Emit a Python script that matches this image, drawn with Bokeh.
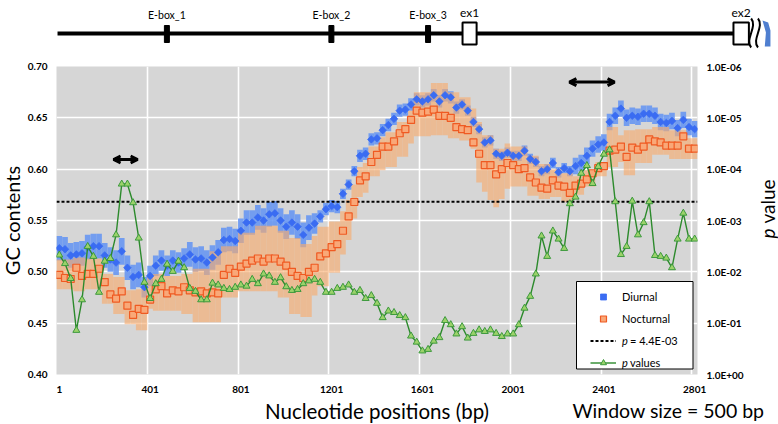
from bokeh.plotting import figure
from bokeh.models import (Range1d, LogScale, LogAxis, FixedTicker, CustomJSTickFormatter,
                          PrintfTickFormatter, Legend, LegendItem, Arrow, OpenHead,
                          ColumnDataSource, BoxAnnotation)
from bokeh.layouts import column, row
from bokeh.embed import file_html
from bokeh.resources import INLINE
from bokeh.core.properties import value
import math

# ---------------- data ----------------
positions = list(range(1, 2802, 25))          # window start positions (bp)
tick_positions = [1, 401, 801, 1201, 1601, 2001, 2401, 2801]

diurnal = [
    0.523, 0.522, 0.516, 0.517, 0.518, 0.524, 0.525, 0.525, 0.516, 0.512,
    0.509, 0.520, 0.504, 0.495, 0.497, 0.485, 0.496, 0.506, 0.511, 0.506,
    0.511, 0.509, 0.513, 0.517, 0.512, 0.513, 0.509, 0.514, 0.519, 0.531,
    0.532, 0.530, 0.540, 0.548, 0.548, 0.553, 0.550, 0.556, 0.557, 0.550,
    0.544, 0.548, 0.544, 0.536, 0.543, 0.547, 0.554, 0.561, 0.564, 0.563,
    0.576, 0.585, 0.598, 0.613, 0.615, 0.629, 0.630, 0.638, 0.643, 0.649,
    0.657, 0.658, 0.663, 0.668, 0.666, 0.668, 0.672, 0.666, 0.672, 0.670,
    0.660, 0.663, 0.657, 0.646, 0.639, 0.626, 0.628, 0.615, 0.613, 0.616,
    0.613, 0.613, 0.618, 0.610, 0.607, 0.598, 0.600, 0.606, 0.597, 0.601,
    0.598, 0.603, 0.606, 0.613, 0.620, 0.624, 0.626, 0.646, 0.652, 0.659,
    0.650, 0.652, 0.651, 0.654, 0.654, 0.652, 0.646, 0.645, 0.647, 0.640,
    0.648, 0.641, 0.639]
diurnal_spread = [
    0.012, 0.012, 0.012, 0.012, 0.012, 0.012, 0.012, 0.012, 0.012, 0.012,
    0.012, 0.013, 0.012, 0.012, 0.012, 0.010, 0.010, 0.010, 0.010, 0.010,
    0.010, 0.010, 0.010, 0.012, 0.012, 0.012, 0.012, 0.012, 0.012, 0.012,
    0.012, 0.012, 0.012, 0.012, 0.012, 0.012, 0.012, 0.012, 0.012, 0.012,
    0.012, 0.012, 0.012, 0.012, 0.012, 0.010, 0.006, 0.006, 0.006, 0.006,
    0.005, 0.005, 0.005, 0.006, 0.006, 0.006, 0.006, 0.006, 0.006, 0.006,
    0.006, 0.006, 0.006, 0.006, 0.006, 0.006, 0.006, 0.006, 0.006, 0.006,
    0.006, 0.005, 0.005, 0.005, 0.005, 0.005, 0.005, 0.005, 0.005, 0.005,
    0.005, 0.005, 0.005, 0.005, 0.005, 0.005, 0.005, 0.005, 0.005, 0.005,
    0.005, 0.008, 0.008, 0.008, 0.008, 0.008, 0.008, 0.008, 0.008, 0.008,
    0.008, 0.008, 0.008, 0.008, 0.008, 0.008, 0.008, 0.008, 0.008, 0.008,
    0.008, 0.008, 0.008]
nocturnal = [
    0.497, 0.494, 0.493, 0.504, 0.496, 0.498, 0.498, 0.503, 0.490, 0.478,
    0.474, 0.481, 0.467, 0.458, 0.464, 0.463, 0.473, 0.483, 0.486, 0.479,
    0.482, 0.481, 0.485, 0.482, 0.480, 0.481, 0.479, 0.480, 0.479, 0.497,
    0.503, 0.499, 0.505, 0.508, 0.511, 0.513, 0.510, 0.513, 0.513, 0.510,
    0.506, 0.500, 0.496, 0.494, 0.500, 0.504, 0.515, 0.518, 0.524, 0.527,
    0.540, 0.554, 0.568, 0.589, 0.593, 0.607, 0.614, 0.622, 0.622, 0.627,
    0.635, 0.639, 0.648, 0.657, 0.655, 0.656, 0.658, 0.652, 0.652, 0.650,
    0.641, 0.639, 0.638, 0.626, 0.615, 0.604, 0.604, 0.595, 0.600, 0.606,
    0.604, 0.600, 0.601, 0.592, 0.587, 0.582, 0.581, 0.589, 0.584, 0.583,
    0.577, 0.584, 0.586, 0.590, 0.596, 0.601, 0.603, 0.618, 0.619, 0.622,
    0.612, 0.621, 0.619, 0.622, 0.629, 0.627, 0.626, 0.623, 0.623, 0.623,
    0.632, 0.620, 0.620]
nocturnal_low = [
    0.483, 0.483, 0.483, 0.481, 0.481, 0.483, 0.483, 0.483, 0.469, 0.469,
    0.459, 0.459, 0.449, 0.449, 0.443, 0.443, 0.464, 0.462, 0.462, 0.462,
    0.462, 0.462, 0.459, 0.459, 0.451, 0.451, 0.451, 0.451, 0.451, 0.475,
    0.475, 0.475, 0.481, 0.481, 0.481, 0.481, 0.481, 0.481, 0.481, 0.475,
    0.475, 0.459, 0.459, 0.456, 0.456, 0.477, 0.486, 0.486, 0.499, 0.499,
    0.517, 0.531, 0.552, 0.573, 0.577, 0.593, 0.593, 0.599, 0.602, 0.602,
    0.612, 0.612, 0.625, 0.632, 0.632, 0.632, 0.633, 0.633, 0.633, 0.630,
    0.630, 0.628, 0.628, 0.620, 0.587, 0.578, 0.570, 0.563, 0.571, 0.581,
    0.583, 0.583, 0.583, 0.574, 0.574, 0.571, 0.571, 0.573, 0.573, 0.568,
    0.568, 0.575, 0.575, 0.583, 0.583, 0.593, 0.593, 0.602, 0.602, 0.607,
    0.594, 0.594, 0.606, 0.606, 0.606, 0.614, 0.614, 0.614, 0.610, 0.610,
    0.610, 0.610, 0.610]
nocturnal_high = [
    0.512, 0.512, 0.512, 0.514, 0.514, 0.513, 0.513, 0.513, 0.498, 0.498,
    0.495, 0.495, 0.482, 0.482, 0.483, 0.483, 0.495, 0.498, 0.498, 0.496,
    0.496, 0.496, 0.498, 0.498, 0.503, 0.503, 0.503, 0.520, 0.520, 0.525,
    0.525, 0.525, 0.538, 0.538, 0.538, 0.545, 0.545, 0.545, 0.545, 0.540,
    0.540, 0.533, 0.533, 0.527, 0.527, 0.535, 0.544, 0.544, 0.549, 0.549,
    0.559, 0.570, 0.585, 0.602, 0.606, 0.622, 0.622, 0.631, 0.636, 0.636,
    0.646, 0.646, 0.657, 0.675, 0.675, 0.675, 0.684, 0.684, 0.684, 0.675,
    0.675, 0.670, 0.670, 0.659, 0.646, 0.633, 0.633, 0.620, 0.620, 0.625,
    0.622, 0.622, 0.622, 0.613, 0.613, 0.605, 0.605, 0.600, 0.600, 0.596,
    0.596, 0.593, 0.593, 0.599, 0.599, 0.607, 0.607, 0.641, 0.641, 0.633,
    0.638, 0.638, 0.639, 0.639, 0.639, 0.641, 0.641, 0.641, 0.638, 0.638,
    0.638, 0.630, 0.630]
p_values = [
    4.7e-3, 6.9e-3, 1.35e-2, 1.38e-1, 3.5e-2, 3.2e-3, 5.0e-3, 2.5e-2, 6.2e-3, 5.5e-3,
    1.9e-3, 1.95e-4, 1.95e-4, 4.5e-4, 2.2e-3, 1.6e-2, 3.3e-2, 1.7e-2, 1.4e-2, 7.1e-3,
    9.8e-3, 6.2e-3, 8.3e-3, 2.1e-2, 2.4e-2, 3.5e-2, 3.5e-2, 1.66e-2, 1.8e-2, 2.1e-2,
    2.2e-2, 2.0e-2, 1.8e-2, 1.9e-2, 1.4e-2, 1.7e-2, 1.1e-2, 1.2e-2, 1.6e-2, 1.3e-2,
    1.95e-2, 2.3e-2, 2.2e-2, 1.7e-2, 1.5e-2, 1.4e-2, 1.6e-2, 2.5e-2, 2.5e-2, 2.1e-2,
    2.0e-2, 1.8e-2, 2.5e-2, 2.3e-2, 3.3e-2, 2.9e-2, 4.1e-2, 7.8e-2, 5.8e-2, 6.2e-2,
    7.1e-2, 7.8e-2, 1.78e-1, 2.34e-1, 3.47e-1, 3.24e-1, 2.24e-1, 1.91e-1, 8.9e-2, 1.07e-1,
    1.62e-1, 1.17e-1, 1.95e-1, 1.58e-1, 1.35e-1, 1.45e-1, 1.35e-1, 1.58e-1, 1.82e-1, 1.62e-1,
    1.62e-1, 1.07e-1, 5.1e-2, 3.0e-2, 1.1e-2, 2.0e-3, 5.0e-3, 1.6e-3, 2.3e-3, 3.5e-3,
    4.7e-4, 3.5e-4, 1.2e-4, 8.5e-5, 1.9e-4, 8.9e-5, 5.1e-5, 4.2e-5, 4.3e-4, 4.6e-3,
    3.2e-3, 4.2e-4, 1.9e-3, 1.1e-3, 4.3e-4, 4.8e-3, 5.0e-3, 5.4e-3, 8.3e-3, 2.3e-3,
    7.2e-4, 2.3e-3, 2.3e-3]
p_threshold_line = 4.3e-4
threshold_label = "= 4.4E-03"
gc_ticks = [0.40, 0.45, 0.50, 0.55, 0.60, 0.65, 0.70]
p_ticks = [1.0, 1e-1, 1e-2, 1e-3, 1e-4, 1e-5, 1e-6]

# double arrows marking 500 bp windows
arrow_start = [240, 2249]
arrow_end = [346, 2448]
arrow_gc = [0.6094, 0.6848]

# gene diagram (bp on the same axis)
gene_start, gene_end = -7, 3000
ebox_names = ["E-box_1", "E-box_2", "E-box_3"]
ebox_pos = [475, 1200, 1626]
exon_names = ["ex1", "ex2"]
exon_start = [1778, 2972]
exon_end = [1840, 3040]

# ---------------- layout constants (page pixels) ----------------
FONT = "Lato"
W_ALL, W_LS, W_RS = 778, 24, 26
W = W_ALL - W_LS - W_RS
H_TOP, H_MAIN, H_BOT = 58, 340, 26
BT, BB = 8, 24
BL = 56 - W_LS
FW = 641
BR = W - BL - FW
FH = H_MAIN - BT - BB
FRAME_LEFT = W_LS + BL
FRAME_TOP = H_TOP + BT
FRAME_BOTTOM = FRAME_TOP + FH
step = positions[1] - positions[0]
x_lo, x_hi = positions[0] - step / 2, positions[-1] + step / 2
bp_per_px = (x_hi - x_lo) / FW
gc_per_px = (gc_ticks[-1] - gc_ticks[0]) / FH
page_lo = x_lo - FRAME_LEFT * bp_per_px
page_hi = page_lo + W_ALL * bp_per_px


def px_x(page_x):
    return page_lo + page_x * bp_per_px


def px_y(page_y):
    return gc_ticks[0] + (FRAME_BOTTOM - page_y) * gc_per_px


def no_align(fig):
    try:
        fig.frame_align = False
    except Exception:
        pass


def blank_fig(width, height, xr, yr):
    f = figure(width=width, height=height, x_range=xr, y_range=yr,
               x_axis_type=None, y_axis_type=None, output_backend="svg",
               toolbar_location=None, min_border=0)
    no_align(f)
    f.outline_line_color = None
    f.grid.visible = False
    return f


# ---------------- main figure ----------------
p = figure(width=W, height=H_MAIN, x_range=Range1d(x_lo, x_hi),
           y_range=Range1d(gc_ticks[0], gc_ticks[-1]),
           output_backend="svg", toolbar_location=None,
           min_border_left=BL, min_border_right=BR, min_border_top=BT, min_border_bottom=BB)
no_align(p)
p.extra_y_ranges = {"p": Range1d(p_ticks[0], p_ticks[-1])}
p.extra_y_scales = {"p": LogScale()}
p.background_fill_color = "#d6d6d6"
p.border_fill_color = "white"
p.outline_line_color = None

xaxis = p.xaxis[0]
laxis = p.yaxis[0]
xaxis.ticker = FixedTicker(ticks=tick_positions)
laxis.ticker = FixedTicker(ticks=gc_ticks)
laxis.formatter = PrintfTickFormatter(format="%.2f")

raxis = LogAxis(y_range_name="p", ticker=FixedTicker(ticks=p_ticks),
                formatter=CustomJSTickFormatter(code="""
                    const e = Math.round(Math.log10(tick));
                    const a = Math.abs(e);
                    return "1.0E" + (e < 0 ? "-" : "+") + (a < 10 ? "0" : "") + a;"""))
p.add_layout(raxis, "right")

for ax in (xaxis, laxis, raxis):
    ax.axis_line_color = None
    ax.major_tick_line_color = None
    ax.minor_tick_line_color = None
    ax.major_tick_out = 0
    ax.major_tick_in = 0
    ax.major_label_text_font = FONT
    ax.major_label_text_font_style = "bold"
    ax.major_label_text_font_size = "10px"
    ax.major_label_text_color = "black"
    ax.major_label_standoff = 9
xaxis.major_label_standoff = 11

p.xgrid.ticker = FixedTicker(ticks=[t - step / 2 for t in tick_positions])
p.ygrid.ticker = FixedTicker(ticks=gc_ticks)
for g in (p.xgrid[0], p.ygrid[0]):
    g.grid_line_color = "white"
    g.grid_line_width = 1.6
    g.grid_line_alpha = 1.0

src = ColumnDataSource(dict(
    x=positions, d=diurnal,
    dlo=[a - b for a, b in zip(diurnal, diurnal_spread)],
    dhi=[a + b for a, b in zip(diurnal, diurnal_spread)],
    n=nocturnal, nlo=nocturnal_low, nhi=nocturnal_high, pv=p_values))

p.vbar(x="x", width=step, bottom="dlo", top="dhi", source=src,
       fill_color="#6897f2", fill_alpha=0.9, line_color=None)
p.vbar(x="x", width=step, bottom="nlo", top="nhi", source=src,
       fill_color="#f8ab6c", fill_alpha=0.62, line_color=None)
thr = p.line(x=[x_lo, x_hi], y=[p_threshold_line, p_threshold_line], y_range_name="p",
             line_color="black", line_width=2, line_dash="3 2")
sq = p.scatter("x", "n", source=src, marker="square", size=7,
               fill_color="#f9a878", line_color="#ef5a22", line_width=1.2)
dm = p.scatter("x", "d", source=src, marker="square", angle=math.pi / 4, size=5.3,
               fill_color="#3a6cf2", line_color="#3a6cf2", line_width=0.8)
gl = p.line("x", "pv", source=src, y_range_name="p", line_color="#2c8a2c", line_width=1.4)
gt = p.scatter("x", "pv", source=src, y_range_name="p", marker="triangle", size=7,
               fill_color="#9bd26a", line_color="#3d9a3d", line_width=1)
dummy = p.line(x=[], y=[], line_alpha=0)

# arrows
asrc = ColumnDataSource(dict(xs=arrow_start, xe=arrow_end, y=arrow_gc))
p.add_layout(Arrow(start=OpenHead(size=7, line_width=3), end=OpenHead(size=7, line_width=3),
                   x_start="xs", y_start="y", x_end="xe", y_end="y", source=asrc,
                   line_width=3, line_color="black"))

# legend frame
p.add_layout(BoxAnnotation(left=px_x(576), right=px_x(692.5), top=px_y(281), bottom=px_y(368.5),
                           fill_color="white", fill_alpha=1.0, line_color="black", line_width=1,
                           line_alpha=1.0))

LEG = dict(orientation="vertical", padding=4, spacing=7, margin=0,
           glyph_width=26, glyph_height=15, label_height=15, label_width=40, label_standoff=6,
           border_line_color=None, background_fill_alpha=0.0,
           label_text_font=FONT, label_text_font_size="11px", label_text_color="black")
leg_x, leg_y = 590 - FRAME_LEFT, FRAME_BOTTOM - 370
p.add_layout(Legend(items=[LegendItem(label="Diurnal", renderers=[dm]),
                           LegendItem(label="Nocturnal", renderers=[sq]),
                           LegendItem(label=" ", renderers=[thr]),
                           LegendItem(label=" ", renderers=[gl, gt])],
                    location=(leg_x, leg_y), **LEG))
p.add_layout(Legend(items=[LegendItem(label="p", renderers=[dummy]),
                           LegendItem(label="p", renderers=[dummy])],
                    location=(leg_x, leg_y), label_text_font_style="italic", **LEG))
p.add_layout(Legend(items=[LegendItem(label=threshold_label, renderers=[dummy]),
                           LegendItem(label="values", renderers=[dummy])],
                    location=(leg_x + 8, leg_y), **LEG))

# ---------------- side title strips ----------------
STRIP_BOTTOM = H_TOP + H_MAIN          # page y of the strips' bottom edge
ls = blank_fig(W_LS, H_MAIN, Range1d(0, W_LS), Range1d(0, H_MAIN))
ls.text(x=[11], y=[STRIP_BOTTOM - (FRAME_TOP + FRAME_BOTTOM) / 2], text=["GC contents"],
        angle=math.pi / 2, text_font=value(FONT), text_font_size="20px",
        text_align="center", text_baseline="middle", text_color="black")

rs = blank_fig(W_RS, H_MAIN, Range1d(0, W_RS), Range1d(0, H_MAIN))
rs_x = 767 - (W_ALL - W_RS)
rs.text(x=[rs_x], y=[STRIP_BOTTOM - 238], text=["p"], angle=math.pi / 2, text_font=value(FONT),
        text_font_style="italic", text_font_size="19px", text_align="left",
        text_baseline="middle", text_color="black")
rs.text(x=[rs_x], y=[STRIP_BOTTOM - 223], text=["value"], angle=math.pi / 2, text_font=value(FONT),
        text_font_size="19px", text_align="left", text_baseline="middle", text_color="black")

# ---------------- gene diagram ----------------
top = blank_fig(W_ALL, H_TOP, Range1d(page_lo, page_hi), Range1d(0, H_TOP))
top.line(x=[gene_start, gene_end], y=[25, 25], line_width=4, line_color="black")
top.rect(x=ebox_pos, y=[24.5] * 3, width=22, height=17, fill_color="black", line_color="black")
top.quad(left=exon_start, right=exon_end, bottom=[14] * 2, top=[36] * 2,
         fill_color="white", line_color="black", line_width=2)
top.text(x=ebox_pos, y=[44] * 3, text=ebox_names, text_font=value(FONT), text_font_size="10.5px",
         text_align="center", text_baseline="middle", text_color="black")
top.text(x=[(a + b) / 2 for a, b in zip(exon_start, exon_end)], y=[46] * 2, text=exon_names,
         text_font=value(FONT), text_font_size="12px", text_align="center", text_baseline="middle",
         text_color="black")
brk = exon_end[1]
top.bezier(x0=[brk + 10, brk + 40], y0=[40, 40], x1=[brk + 10, brk + 40], y1=[11, 11],
           cx0=[brk + 40, brk + 70], cy0=[32, 32], cx1=[brk - 20, brk + 10], cy1=[19, 19],
           line_color="black", line_width=2)
top.patch(x=[brk + 60, brk + 85, brk + 95, brk + 95, brk + 70, brk + 75],
          y=[38, 36, 28, 12, 12, 26], fill_color="#4f7fd0", line_color=None)

# ---------------- x-axis title strip ----------------
bot = blank_fig(W_ALL, H_BOT, Range1d(page_lo, page_hi), Range1d(0, H_BOT))
bot.text(x=[(x_lo + x_hi) / 2], y=[14], text=["Nucleotide positions (bp)"],
         text_font=value(FONT), text_font_size="20.5px", text_align="center",
         text_baseline="middle", text_color="black")
bot.text(x=[px_x(572)], y=[14], text=["Window size = 500 bp"],
         text_font=value(FONT), text_font_size="19.5px", text_align="left",
         text_baseline="middle", text_color="black")

layout = column(top, row(ls, p, rs, spacing=0), bot, spacing=0)
open("out.html", "w").write(file_html(layout, INLINE))
